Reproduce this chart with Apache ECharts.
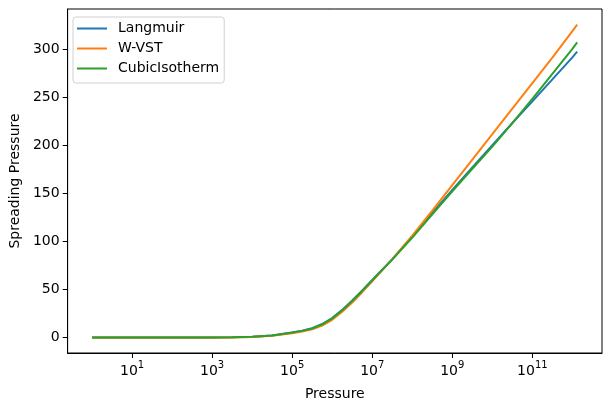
<!DOCTYPE html>
<html>
<head>
<meta charset="utf-8">
<script src="https://cdn.jsdelivr.net/npm/echarts@6/dist/echarts.min.js"></script>
<style>
  html, body { margin: 0; padding: 0; background: #fff; }
  #chart { width: 611px; height: 411px; }
</style>
</head>
<body>
<div id="chart"></div>
<script>
// pressures (log10 exponents of the sampled pressure values)
const pressureExp = [0, 1, 2, 3, 3.5, 4, 4.5, 5, 5.25, 5.5, 5.75, 6, 6.25, 6.5, 6.75, 7, 7.5, 8, 8.5, 9, 9.5, 10, 10.5, 11, 11.5, 12, 12.12];
const pressures = pressureExp.map(e => Math.pow(10, e));

const langmuir = [0, 0, 0, 0.1, 0.3, 0.9, 2.3, 5.3, 7.2, 9.8, 14.1, 20.3, 28.8, 38.6, 49, 60, 81.5, 105, 129.5, 153.5, 176.8, 200, 223, 245.5, 268.3, 291.3, 297.2];
const wvst = [0, 0, 0, 0.05, 0.2, 0.6, 1.8, 4.6, 6.4, 8.6, 12.5, 18.5, 26.8, 36.5, 47.2, 58.5, 81.5, 106, 132, 158.5, 185, 211.5, 238, 264.5, 291, 318.5, 325.2];
const cubic = [0, 0, 0, 0.1, 0.3, 0.8, 2.2, 5.2, 7, 9.5, 13.8, 20, 28.5, 38, 48.5, 59.5, 81, 104, 128, 152, 175.5, 198.5, 223, 248, 274, 300, 306.9];

const xTickExp = [1, 3, 5, 7, 9, 11];
const yTicks = [0, 50, 100, 150, 200, 250, 300];

const names = ['Langmuir', 'W-VST', 'CubicIsotherm'];
const colors = ['#1f77b4', '#ff7f0e', '#2ca02c'];
const values = [langmuir, wvst, cubic];

const font = 'DejaVu Sans';
const chart = echarts.init(document.getElementById('chart'));

chart.setOption({
  animation: false,
  grid: {
    left: 66, right: 9, top: 9, bottom: 58,
    show: true, borderColor: '#000', borderWidth: 1, backgroundColor: 'transparent'
  },
  legend: {
    orient: 'vertical',
    left: 73, top: 17,
    data: names,
    icon: 'rect',
    itemWidth: 30, itemHeight: 2,
    itemGap: 5,
    padding: [4, 5, 7, 4],
    backgroundColor: '#fff',
    borderColor: '#d0d0d0', borderWidth: 1, borderRadius: 3,
    textStyle: { fontFamily: font, fontSize: 14, color: '#000', lineHeight: 15, padding: [0, 0, 0, 6] }
  },
  xAxis: {
    type: 'value',
    min: -0.61, max: 12.74,
    name: 'Pressure', nameLocation: 'middle', nameGap: 34,
    nameTextStyle: { fontFamily: font, fontSize: 14, color: '#000' },
    axisLine: { show: true, onZero: false, lineStyle: { color: '#000', width: 1 } },
    axisTick: { show: true, inside: false, length: 5, lineStyle: { color: '#000' }, customValues: xTickExp },
    axisLabel: {
      margin: 7,
      customValues: xTickExp,
      formatter: v => '{b|10}{s|' + v + '}',
      rich: {
        b: { fontFamily: font, fontSize: 14, color: '#000', verticalAlign: 'bottom' },
        s: { fontFamily: font, fontSize: 10, color: '#000', verticalAlign: 'top', padding: [0, 0, 8, 0] }
      }
    },
    splitLine: { show: false }
  },
  yAxis: {
    type: 'value',
    min: -16, max: 341.5,
    name: 'Spreading Pressure', nameLocation: 'middle', nameGap: 41,
    nameTextStyle: { fontFamily: font, fontSize: 14, color: '#000' },
    axisLine: { show: true, onZero: false, lineStyle: { color: '#000', width: 1 } },
    axisTick: { show: true, inside: false, length: 5, lineStyle: { color: '#000' }, customValues: yTicks },
    axisLabel: { margin: 8, fontFamily: font, fontSize: 14, color: '#000', customValues: yTicks },
    splitLine: { show: false }
  },
  series: names.map((n, i) => ({
    name: n,
    type: 'line',
    data: pressures.map((p, j) => [Math.log10(p), values[i][j]]),
    showSymbol: false,
    smooth: false,
    color: colors[i],
    lineStyle: { color: colors[i], width: 2 }
  }))
});
</script>
</body>
</html>
